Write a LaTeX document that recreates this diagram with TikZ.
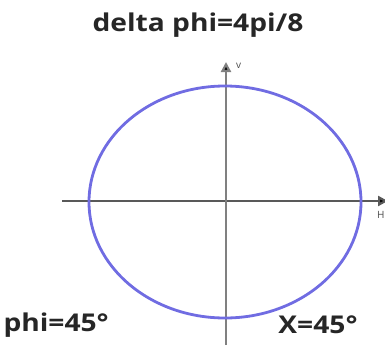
\documentclass[tikz,border=0pt]{standalone}
\usepackage{fontspec}
\setmainfont{Open Sans}
\newfontfamily\lblfont{Open Sans}[FakeStretch=1.15]
\usetikzlibrary{arrows.meta}
\begin{document}
\begin{tikzpicture}[x=1pt,y=-1pt,
  axis/.style={draw=black!65,line width=2.2pt,-{Triangle[width=10pt,length=10pt,fill=black]}},
  lbl/.style={font=\lblfont\bfseries\fontsize{24.5}{27}\selectfont,text=black!85,inner sep=0pt},
  small/.style={font=\fontsize{10}{11}\selectfont,text=black!70,inner sep=0pt}]
\useasboundingbox (0,0) rectangle (385,345);
\coordinate (hs) at (62,201);
\coordinate (he) at (388,201);
\coordinate (vs) at (226,345);
\coordinate (ve) at (226,62);
\draw[axis] (hs) -- (he);
\draw[axis,draw=black!50] (vs) -- (ve);
\draw[draw={rgb,255:red,112;green,108;blue,226},line width=2.8pt] (225,202) ellipse [x radius=136, y radius=116];
\node[lbl] (title) at (198,25) {delta phi=4pi/8};
\node[small,anchor=west] (v) at (236,66) {v};
\node[small,anchor=west] (h) at (377,215) {H};
\node[lbl,anchor=east] (phi) at (109,325) {phi=45°};
\node[lbl] (x) at (318,325) {X=45°};
\end{tikzpicture}
\end{document}
